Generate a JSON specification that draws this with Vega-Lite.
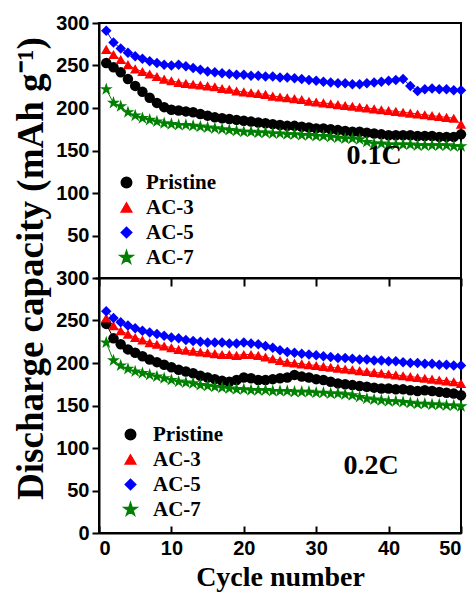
{
  "$schema": "https://vega.github.io/schema/vega-lite/v6.json",
  "padding": {"left": 10, "top": 12, "right": 12, "bottom": 2},
  "spacing": 0,
  "bounds": "flush",
  "resolve": {"scale": {"color": "independent", "shape": "independent"}, "legend": {"color": "independent", "shape": "independent"}},
  "config": {
    "view": {"stroke": "black", "strokeWidth": 2},
    "axis": {"domainColor": "black", "domainWidth": 2, "tickColor": "black", "tickWidth": 2, "labelFont": "Liberation Sans", "labelFontWeight": "bold", "labelFontSize": 20, "labelColor": "black", "titleFont": "Liberation Serif", "titleFontWeight": "bold", "titleFontSize": 28, "titleColor": "black", "grid": false},
    "legend": {"labelFont": "Liberation Serif", "labelFontWeight": "bold", "labelFontSize": 21, "labelColor": "black", "symbolSize": 110, "rowPadding": 3}
  },
  "datasets": {
    "d": [
      {"r":"0.1C","c":1,"Pristine":253,"AC-3":269,"AC-5":291,"AC-7":222},
      {"r":"0.1C","c":2,"Pristine":248,"AC-3":263,"AC-5":277,"AC-7":206},
      {"r":"0.1C","c":3,"Pristine":242,"AC-3":257,"AC-5":270,"AC-7":202},
      {"r":"0.1C","c":4,"Pristine":234,"AC-3":251,"AC-5":265,"AC-7":195},
      {"r":"0.1C","c":5,"Pristine":226,"AC-3":246,"AC-5":261,"AC-7":191},
      {"r":"0.1C","c":6,"Pristine":219,"AC-3":243,"AC-5":258,"AC-7":188},
      {"r":"0.1C","c":7,"Pristine":212,"AC-3":240,"AC-5":255,"AC-7":186},
      {"r":"0.1C","c":8,"Pristine":206,"AC-3":237,"AC-5":253,"AC-7":184},
      {"r":"0.1C","c":9,"Pristine":201,"AC-3":234,"AC-5":251,"AC-7":182},
      {"r":"0.1C","c":10,"Pristine":198,"AC-3":232,"AC-5":250,"AC-7":181},
      {"r":"0.1C","c":11,"Pristine":197,"AC-3":230,"AC-5":251,"AC-7":180},
      {"r":"0.1C","c":12,"Pristine":196,"AC-3":229,"AC-5":249,"AC-7":180},
      {"r":"0.1C","c":13,"Pristine":195,"AC-3":228,"AC-5":247,"AC-7":179},
      {"r":"0.1C","c":14,"Pristine":193,"AC-3":227,"AC-5":245,"AC-7":178},
      {"r":"0.1C","c":15,"Pristine":191,"AC-3":226,"AC-5":243,"AC-7":177},
      {"r":"0.1C","c":16,"Pristine":189,"AC-3":225,"AC-5":242,"AC-7":176},
      {"r":"0.1C","c":17,"Pristine":188,"AC-3":223,"AC-5":241,"AC-7":175},
      {"r":"0.1C","c":18,"Pristine":187,"AC-3":222,"AC-5":240,"AC-7":174},
      {"r":"0.1C","c":19,"Pristine":186,"AC-3":220,"AC-5":239,"AC-7":173},
      {"r":"0.1C","c":20,"Pristine":185,"AC-3":219,"AC-5":239,"AC-7":172},
      {"r":"0.1C","c":21,"Pristine":184,"AC-3":218,"AC-5":238,"AC-7":172},
      {"r":"0.1C","c":22,"Pristine":183,"AC-3":217,"AC-5":238,"AC-7":171},
      {"r":"0.1C","c":23,"Pristine":182,"AC-3":216,"AC-5":237,"AC-7":171},
      {"r":"0.1C","c":24,"Pristine":181,"AC-3":214,"AC-5":237,"AC-7":170},
      {"r":"0.1C","c":25,"Pristine":180,"AC-3":213,"AC-5":236,"AC-7":170},
      {"r":"0.1C","c":26,"Pristine":179,"AC-3":212,"AC-5":236,"AC-7":169},
      {"r":"0.1C","c":27,"Pristine":179,"AC-3":211,"AC-5":235,"AC-7":169},
      {"r":"0.1C","c":28,"Pristine":178,"AC-3":210,"AC-5":234,"AC-7":168},
      {"r":"0.1C","c":29,"Pristine":177,"AC-3":208,"AC-5":233,"AC-7":168},
      {"r":"0.1C","c":30,"Pristine":176,"AC-3":207,"AC-5":232,"AC-7":167},
      {"r":"0.1C","c":31,"Pristine":176,"AC-3":206,"AC-5":231,"AC-7":167},
      {"r":"0.1C","c":32,"Pristine":175,"AC-3":205,"AC-5":230,"AC-7":166},
      {"r":"0.1C","c":33,"Pristine":174,"AC-3":204,"AC-5":229,"AC-7":165},
      {"r":"0.1C","c":34,"Pristine":173,"AC-3":203,"AC-5":229,"AC-7":164},
      {"r":"0.1C","c":35,"Pristine":172,"AC-3":202,"AC-5":228,"AC-7":164},
      {"r":"0.1C","c":36,"Pristine":172,"AC-3":201,"AC-5":228,"AC-7":163},
      {"r":"0.1C","c":37,"Pristine":171,"AC-3":200,"AC-5":229,"AC-7":160},
      {"r":"0.1C","c":38,"Pristine":170,"AC-3":199,"AC-5":230,"AC-7":158},
      {"r":"0.1C","c":39,"Pristine":169,"AC-3":198,"AC-5":231,"AC-7":158},
      {"r":"0.1C","c":40,"Pristine":168,"AC-3":197,"AC-5":232,"AC-7":157},
      {"r":"0.1C","c":41,"Pristine":168,"AC-3":196,"AC-5":233,"AC-7":157},
      {"r":"0.1C","c":42,"Pristine":168,"AC-3":195,"AC-5":234,"AC-7":157},
      {"r":"0.1C","c":43,"Pristine":168,"AC-3":194,"AC-5":226,"AC-7":157},
      {"r":"0.1C","c":44,"Pristine":167,"AC-3":193,"AC-5":220,"AC-7":156},
      {"r":"0.1C","c":45,"Pristine":167,"AC-3":192,"AC-5":222,"AC-7":156},
      {"r":"0.1C","c":46,"Pristine":167,"AC-3":191,"AC-5":223,"AC-7":156},
      {"r":"0.1C","c":47,"Pristine":166,"AC-3":190,"AC-5":222,"AC-7":156},
      {"r":"0.1C","c":48,"Pristine":166,"AC-3":189,"AC-5":222,"AC-7":156},
      {"r":"0.1C","c":49,"Pristine":166,"AC-3":188,"AC-5":221,"AC-7":155},
      {"r":"0.1C","c":50,"Pristine":169,"AC-3":181,"AC-5":221,"AC-7":155},
      {"r":"0.2C","c":1,"Pristine":246,"AC-3":253,"AC-5":261,"AC-7":224},
      {"r":"0.2C","c":2,"Pristine":229,"AC-3":244,"AC-5":253,"AC-7":203},
      {"r":"0.2C","c":3,"Pristine":222,"AC-3":238,"AC-5":248,"AC-7":197},
      {"r":"0.2C","c":4,"Pristine":216,"AC-3":234,"AC-5":244,"AC-7":193},
      {"r":"0.2C","c":5,"Pristine":212,"AC-3":230,"AC-5":241,"AC-7":190},
      {"r":"0.2C","c":6,"Pristine":208,"AC-3":227,"AC-5":238,"AC-7":188},
      {"r":"0.2C","c":7,"Pristine":204,"AC-3":224,"AC-5":236,"AC-7":186},
      {"r":"0.2C","c":8,"Pristine":201,"AC-3":222,"AC-5":234,"AC-7":184},
      {"r":"0.2C","c":9,"Pristine":198,"AC-3":220,"AC-5":232,"AC-7":182},
      {"r":"0.2C","c":10,"Pristine":195,"AC-3":218,"AC-5":230,"AC-7":180},
      {"r":"0.2C","c":11,"Pristine":192,"AC-3":216,"AC-5":229,"AC-7":178},
      {"r":"0.2C","c":12,"Pristine":190,"AC-3":215,"AC-5":227,"AC-7":177},
      {"r":"0.2C","c":13,"Pristine":188,"AC-3":214,"AC-5":226,"AC-7":176},
      {"r":"0.2C","c":14,"Pristine":185,"AC-3":213,"AC-5":225,"AC-7":174},
      {"r":"0.2C","c":15,"Pristine":183,"AC-3":212,"AC-5":224,"AC-7":173},
      {"r":"0.2C","c":16,"Pristine":181,"AC-3":211,"AC-5":224,"AC-7":172},
      {"r":"0.2C","c":17,"Pristine":179,"AC-3":210,"AC-5":224,"AC-7":171},
      {"r":"0.2C","c":18,"Pristine":178,"AC-3":210,"AC-5":223,"AC-7":170},
      {"r":"0.2C","c":19,"Pristine":180,"AC-3":209,"AC-5":223,"AC-7":169},
      {"r":"0.2C","c":20,"Pristine":183,"AC-3":210,"AC-5":224,"AC-7":169},
      {"r":"0.2C","c":21,"Pristine":182,"AC-3":210,"AC-5":223,"AC-7":168},
      {"r":"0.2C","c":22,"Pristine":180,"AC-3":209,"AC-5":222,"AC-7":168},
      {"r":"0.2C","c":23,"Pristine":180,"AC-3":207,"AC-5":220,"AC-7":168},
      {"r":"0.2C","c":24,"Pristine":181,"AC-3":205,"AC-5":218,"AC-7":167},
      {"r":"0.2C","c":25,"Pristine":182,"AC-3":203,"AC-5":215,"AC-7":167},
      {"r":"0.2C","c":26,"Pristine":183,"AC-3":201,"AC-5":213,"AC-7":167},
      {"r":"0.2C","c":27,"Pristine":186,"AC-3":200,"AC-5":212,"AC-7":166},
      {"r":"0.2C","c":28,"Pristine":184,"AC-3":199,"AC-5":211,"AC-7":166},
      {"r":"0.2C","c":29,"Pristine":183,"AC-3":198,"AC-5":210,"AC-7":166},
      {"r":"0.2C","c":30,"Pristine":181,"AC-3":197,"AC-5":209,"AC-7":165},
      {"r":"0.2C","c":31,"Pristine":180,"AC-3":196,"AC-5":208,"AC-7":165},
      {"r":"0.2C","c":32,"Pristine":178,"AC-3":195,"AC-5":207,"AC-7":164},
      {"r":"0.2C","c":33,"Pristine":176,"AC-3":194,"AC-5":206,"AC-7":164},
      {"r":"0.2C","c":34,"Pristine":175,"AC-3":193,"AC-5":206,"AC-7":163},
      {"r":"0.2C","c":35,"Pristine":174,"AC-3":192,"AC-5":205,"AC-7":162},
      {"r":"0.2C","c":36,"Pristine":173,"AC-3":191,"AC-5":204,"AC-7":160},
      {"r":"0.2C","c":37,"Pristine":172,"AC-3":190,"AC-5":204,"AC-7":158},
      {"r":"0.2C","c":38,"Pristine":171,"AC-3":189,"AC-5":203,"AC-7":157},
      {"r":"0.2C","c":39,"Pristine":170,"AC-3":188,"AC-5":203,"AC-7":156},
      {"r":"0.2C","c":40,"Pristine":170,"AC-3":187,"AC-5":202,"AC-7":155},
      {"r":"0.2C","c":41,"Pristine":169,"AC-3":186,"AC-5":202,"AC-7":155},
      {"r":"0.2C","c":42,"Pristine":169,"AC-3":185,"AC-5":201,"AC-7":154},
      {"r":"0.2C","c":43,"Pristine":168,"AC-3":184,"AC-5":200,"AC-7":153},
      {"r":"0.2C","c":44,"Pristine":167,"AC-3":183,"AC-5":200,"AC-7":152},
      {"r":"0.2C","c":45,"Pristine":168,"AC-3":182,"AC-5":199,"AC-7":152},
      {"r":"0.2C","c":46,"Pristine":167,"AC-3":181,"AC-5":199,"AC-7":151},
      {"r":"0.2C","c":47,"Pristine":166,"AC-3":180,"AC-5":198,"AC-7":151},
      {"r":"0.2C","c":48,"Pristine":165,"AC-3":179,"AC-5":198,"AC-7":150},
      {"r":"0.2C","c":49,"Pristine":164,"AC-3":178,"AC-5":197,"AC-7":150},
      {"r":"0.2C","c":50,"Pristine":162,"AC-3":176,"AC-5":197,"AC-7":149}
    ]
  },
  "vconcat": [
    {
      "width": 362,
      "height": 255,
      "layer": [
        {
          "data": {"name": "d"},
          "transform": [{"filter": "datum.r === '0.1C'"}, {"fold": ["Pristine", "AC-3", "AC-5", "AC-7"], "as": ["s", "v"]}],
          "mark": {"type": "line", "strokeWidth": 1, "point": {"filled": true, "size": 110, "opacity": 1}},
          "encoding": {
            "x": {"field": "c", "type": "quantitative", "scale": {"domain": [0, 50], "nice": false}, "axis": {"values": [0,5,10,15,20,25,30,35,40,45,50], "labels": false, "title": null, "tickSize": {"condition": {"test": "datum.value % 10 === 0", "value": 8}, "value": 5}}},
            "y": {"field": "v", "type": "quantitative", "scale": {"domain": [0, 300], "nice": false}, "axis": {"values": [0,25,50,75,100,125,150,175,200,225,250,275,300], "labelExpr": "datum.value > 0 && datum.value % 50 === 0 ? datum.label : ''", "labelOverlap": false, "title": null, "labelPadding": 3, "tickSize": {"condition": {"test": "datum.value > 0 && datum.value % 50 === 0", "value": 7}, "value": 4}}},
            "color": {"field": "s", "type": "nominal", "scale": {"domain": ["Pristine", "AC-3", "AC-5", "AC-7"], "range": ["#000000", "#ff0000", "#0000ff", "#008000"]}, "legend": {"title": null, "orient": "none", "legendX": 17, "legendY": 149, "labelOffset": 9}},
            "shape": {"field": "s", "type": "nominal", "scale": {"domain": ["Pristine", "AC-3", "AC-5", "AC-7"], "range": ["circle", "triangle-up", "diamond", "M0,-1.3L0.292,-0.402L1.236,-0.402L0.472,0.153L0.764,1.052L0,0.497L-0.764,1.052L-0.472,0.153L-1.236,-0.402L-0.292,-0.402Z"]}, "legend": {"title": null, "orient": "none", "legendX": 17, "legendY": 149, "labelOffset": 9}}
          }
        },
        {
          "data": {"values": [{"t": "0.1C"}]},
          "mark": {"type": "text", "font": "Liberation Serif", "fontWeight": "bold", "fontSize": 28, "color": "black"},
          "encoding": {"text": {"field": "t"}, "x": {"datum": 38}, "y": {"datum": 144}}
        }
      ]
    },
    {
      "width": 362,
      "height": 255,
      "layer": [
        {
          "data": {"name": "d"},
          "transform": [{"filter": "datum.r === '0.2C'"}, {"fold": ["Pristine", "AC-3", "AC-5", "AC-7"], "as": ["s", "v"]}],
          "mark": {"type": "line", "strokeWidth": 1, "point": {"filled": true, "size": 110, "opacity": 1}},
          "encoding": {
            "x": {"field": "c", "type": "quantitative", "scale": {"domain": [0, 50], "nice": false}, "axis": {"values": [0,5,10,15,20,25,30,35,40,45,50], "labelExpr": "datum.value % 10 === 0 ? datum.label : ''", "labelOverlap": false, "labelBaseline": "top", "title": "Cycle number", "titlePadding": 5, "labelPadding": 12, "tickSize": -7}},
            "y": {"field": "v", "type": "quantitative", "scale": {"domain": [0, 300], "nice": false}, "axis": {"values": [0,25,50,75,100,125,150,175,200,225,250,275,300], "labelExpr": "datum.value % 50 === 0 ? datum.label : ''", "labelOverlap": false, "title": "Discharge capacity (mAh g⁻¹)", "titleX": -68, "titleY": -10, "titleAlign": "center", "titleBaseline": "middle", "titleAngle": -90, "titleFontSize": 37, "labelPadding": 3, "tickSize": {"condition": {"test": "datum.value % 50 === 0", "value": 7}, "value": 4}}},
            "color": {"field": "s", "type": "nominal", "scale": {"domain": ["Pristine", "AC-3", "AC-5", "AC-7"], "range": ["#000000", "#ff0000", "#0000ff", "#008000"]}, "legend": {"title": null, "orient": "none", "legendX": 21, "legendY": 146, "labelOffset": 12}},
            "shape": {"field": "s", "type": "nominal", "scale": {"domain": ["Pristine", "AC-3", "AC-5", "AC-7"], "range": ["circle", "triangle-up", "diamond", "M0,-1.3L0.292,-0.402L1.236,-0.402L0.472,0.153L0.764,1.052L0,0.497L-0.764,1.052L-0.472,0.153L-1.236,-0.402L-0.292,-0.402Z"]}, "legend": {"title": null, "orient": "none", "legendX": 21, "legendY": 146, "labelOffset": 12}}
          }
        },
        {
          "data": {"values": [{"t": "0.2C"}]},
          "mark": {"type": "text", "font": "Liberation Serif", "fontWeight": "bold", "fontSize": 28, "color": "black"},
          "encoding": {"text": {"field": "t"}, "x": {"datum": 37.6}, "y": {"datum": 79}}
        }
      ]
    }
  ]
}
